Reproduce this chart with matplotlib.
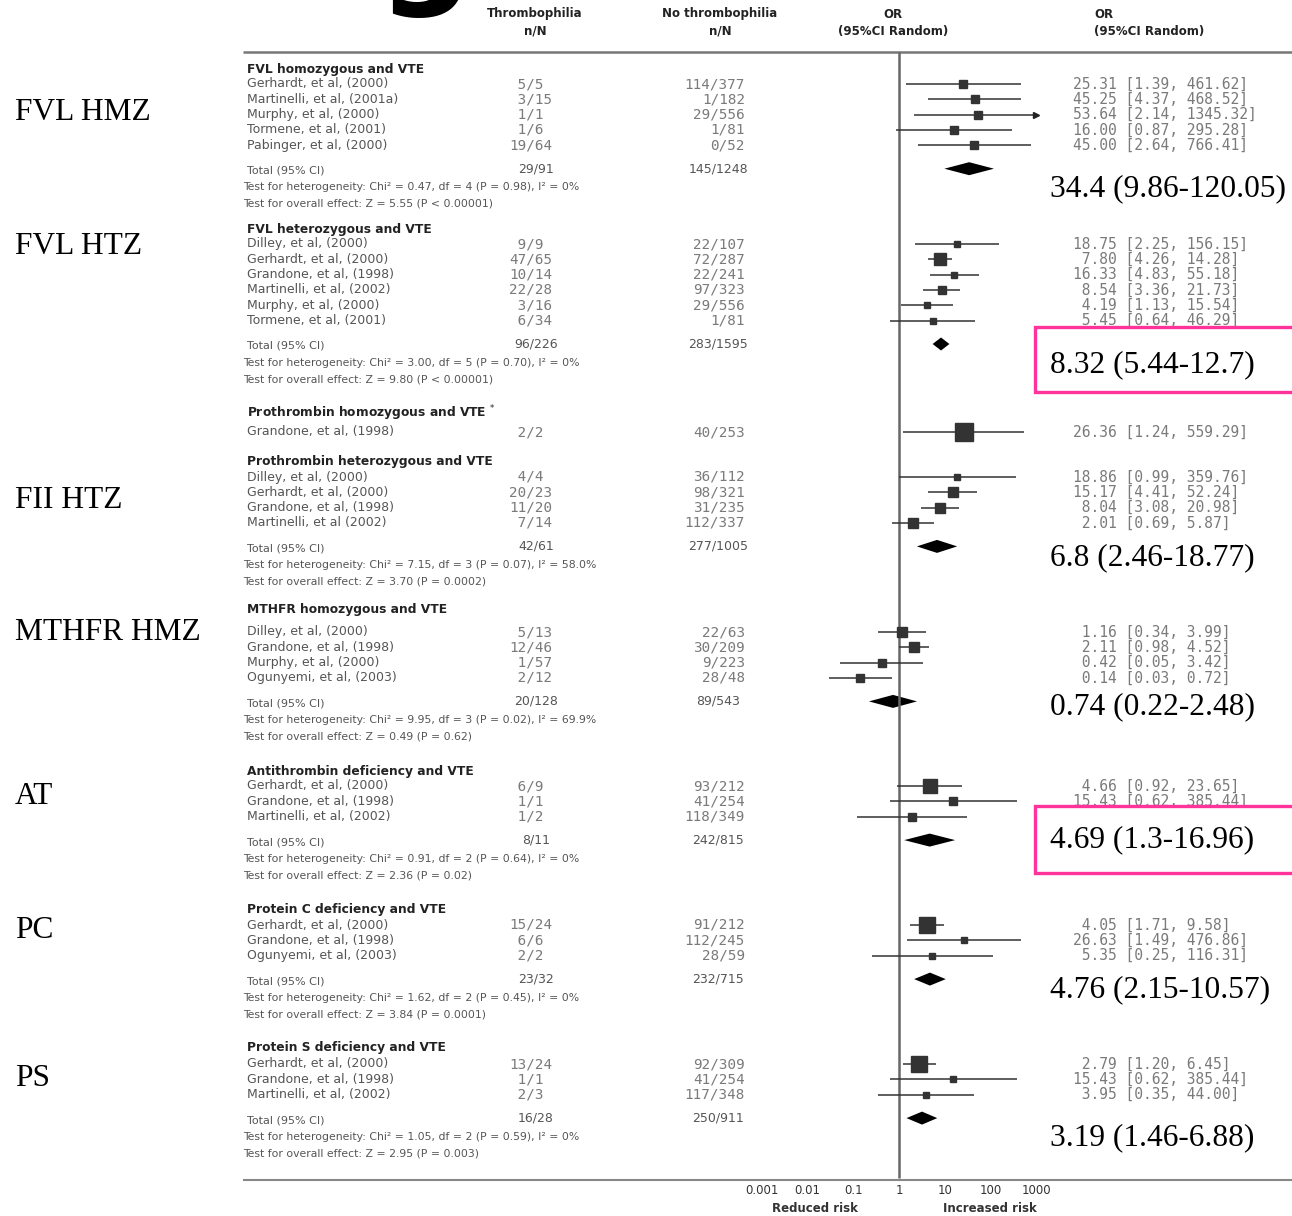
import numpy as np
import matplotlib
matplotlib.use("Agg")
from matplotlib import pyplot as plt
from matplotlib.patches import Rectangle

# ---- FVL homozygous ----
fvl_hmz_study = ["Gerhardt, et al, (2000)", "Martinelli, et al, (2001a)", "Murphy, et al, (2000)",
                 "Tormene, et al, (2001)", "Pabinger, et al, (2000)"]
fvl_hmz_thromb = ["5/5", "3/15", "1/1", "1/6", "19/64"]
fvl_hmz_control = ["114/377", "1/182", "29/556", "1/81", "0/52"]
fvl_hmz_or = [25.31, 45.25, 53.64, 16.00, 45.00]
fvl_hmz_lo = [1.39, 4.37, 2.14, 0.87, 2.64]
fvl_hmz_hi = [461.62, 468.52, 1345.32, 295.28, 766.41]
fvl_hmz_wt = [20, 22, 19, 19, 20]
fvl_hmz_total = ["29/91", "145/1248"]
fvl_hmz_het = "Chi² = 0.47, df = 4 (P = 0.98), I² = 0%"
fvl_hmz_z = "Z = 5.55 (P < 0.00001)"
fvl_hmz_pooled = [34.4, 9.86, 120.05]

# ---- FVL heterozygous ----
fvl_htz_study = ["Dilley, et al, (2000)", "Gerhardt, et al, (2000)", "Grandone, et al, (1998)",
                 "Martinelli, et al, (2002)", "Murphy, et al, (2000)", "Tormene, et al, (2001)"]
fvl_htz_thromb = ["9/9", "47/65", "10/14", "22/28", "3/16", "6/34"]
fvl_htz_control = ["22/107", "72/287", "22/241", "97/323", "29/556", "1/81"]
fvl_htz_or = [18.75, 7.80, 16.33, 8.54, 4.19, 5.45]
fvl_htz_lo = [2.25, 4.26, 4.83, 3.36, 1.13, 0.64]
fvl_htz_hi = [156.15, 14.28, 55.18, 21.73, 15.54, 46.29]
fvl_htz_wt = [7, 45, 12, 22, 9, 5]
fvl_htz_total = ["96/226", "283/1595"]
fvl_htz_het = "Chi² = 3.00, df = 5 (P = 0.70), I² = 0%"
fvl_htz_z = "Z = 9.80 (P < 0.00001)"
fvl_htz_pooled = [8.32, 5.44, 12.7]

# ---- Prothrombin homozygous ----
pt_hmz_study = ["Grandone, et al, (1998)"]
pt_hmz_thromb = ["2/2"]
pt_hmz_control = ["40/253"]
pt_hmz_or = [26.36]
pt_hmz_lo = [1.24]
pt_hmz_hi = [559.29]
pt_hmz_wt = [100]

# ---- Prothrombin heterozygous ----
pt_htz_study = ["Dilley, et al, (2000)", "Gerhardt, et al, (2000)", "Grandone, et al, (1998)",
                "Martinelli, et al (2002)"]
pt_htz_thromb = ["4/4", "20/23", "11/20", "7/14"]
pt_htz_control = ["36/112", "98/321", "31/235", "112/337"]
pt_htz_or = [18.86, 15.17, 8.04, 2.01]
pt_htz_lo = [0.99, 4.41, 3.08, 0.69]
pt_htz_hi = [359.76, 52.24, 20.98, 5.87]
pt_htz_wt = [12, 28, 31, 29]
pt_htz_total = ["42/61", "277/1005"]
pt_htz_het = "Chi² = 7.15, df = 3 (P = 0.07), I² = 58.0%"
pt_htz_z = "Z = 3.70 (P = 0.0002)"
pt_htz_pooled = [6.8, 2.46, 18.77]

# ---- MTHFR homozygous ----
mthfr_study = ["Dilley, et al, (2000)", "Grandone, et al, (1998)", "Murphy, et al, (2000)",
               "Ogunyemi, et al, (2003)"]
mthfr_thromb = ["5/13", "12/46", "1/57", "2/12"]
mthfr_control = ["22/63", "30/209", "9/223", "28/48"]
mthfr_or = [1.16, 2.11, 0.42, 0.14]
mthfr_lo = [0.34, 0.98, 0.05, 0.03]
mthfr_hi = [3.99, 4.52, 3.42, 0.72]
mthfr_wt = [26, 32, 18, 24]
mthfr_total = ["20/128", "89/543"]
mthfr_het = "Chi² = 9.95, df = 3 (P = 0.02), I² = 69.9%"
mthfr_z = "Z = 0.49 (P = 0.62)"
mthfr_pooled = [0.74, 0.22, 2.48]

# ---- Antithrombin ----
at_study = ["Gerhardt, et al, (2000)", "Grandone, et al, (1998)", "Martinelli, et al, (2002)"]
at_thromb = ["6/9", "1/1", "1/2"]
at_control = ["93/212", "41/254", "118/349"]
at_or = [4.66, 15.43, 1.96]
at_lo = [0.92, 0.62, 0.12]
at_hi = [23.65, 385.44, 31.45]
at_wt = [62, 18, 20]
at_total = ["8/11", "242/815"]
at_het = "Chi² = 0.91, df = 2 (P = 0.64), I² = 0%"
at_z = "Z = 2.36 (P = 0.02)"
at_pooled = [4.69, 1.3, 16.96]

# ---- Protein C ----
pc_study = ["Gerhardt, et al, (2000)", "Grandone, et al, (1998)", "Ogunyemi, et al, (2003)"]
pc_thromb = ["15/24", "6/6", "2/2"]
pc_control = ["91/212", "112/245", "28/59"]
pc_or = [4.05, 26.63, 5.35]
pc_lo = [1.71, 1.49, 0.25]
pc_hi = [9.58, 476.86, 116.31]
pc_wt = [70, 15, 15]
pc_total = ["23/32", "232/715"]
pc_het = "Chi² = 1.62, df = 2 (P = 0.45), I² = 0%"
pc_z = "Z = 3.84 (P = 0.0001)"
pc_pooled = [4.76, 2.15, 10.57]

# ---- Protein S ----
ps_study = ["Gerhardt, et al, (2000)", "Grandone, et al, (1998)", "Martinelli, et al, (2002)"]
ps_thromb = ["13/24", "1/1", "2/3"]
ps_control = ["92/309", "41/254", "117/348"]
ps_or = [2.79, 15.43, 3.95]
ps_lo = [1.20, 0.62, 0.35]
ps_hi = [6.45, 385.44, 44.00]
ps_wt = [72, 14, 14]
ps_total = ["16/28", "250/911"]
ps_het = "Chi² = 1.05, df = 2 (P = 0.59), I² = 0%"
ps_z = "Z = 2.95 (P = 0.003)"
ps_pooled = [3.19, 1.46, 6.88]

titles = ["FVL homozygous and VTE", "FVL heterozygous and VTE", "Prothrombin homozygous and VTE $^{*}$",
          "Prothrombin heterozygous and VTE", "MTHFR homozygous and VTE", "Antithrombin deficiency and VTE",
          "Protein C deficiency and VTE", "Protein S deficiency and VTE"]
short_names = ["FVL HMZ", "FVL HTZ", None, "FII HTZ", "MTHFR HMZ", "AT", "PC", "PS"]
tick_vals = [0.001, 0.01, 0.1, 1, 10, 100, 1000]
tick_labels = ["0.001", "0.01", "0.1", "1", "10", "100", "1000"]

groups = [
    dict(study=fvl_hmz_study, thromb=fvl_hmz_thromb, control=fvl_hmz_control, est=fvl_hmz_or,
         lo=fvl_hmz_lo, hi=fvl_hmz_hi, wt=fvl_hmz_wt, total=fvl_hmz_total, het=fvl_hmz_het,
         z=fvl_hmz_z, pooled=fvl_hmz_pooled),
    dict(study=fvl_htz_study, thromb=fvl_htz_thromb, control=fvl_htz_control, est=fvl_htz_or,
         lo=fvl_htz_lo, hi=fvl_htz_hi, wt=fvl_htz_wt, total=fvl_htz_total, het=fvl_htz_het,
         z=fvl_htz_z, pooled=fvl_htz_pooled),
    dict(study=pt_hmz_study, thromb=pt_hmz_thromb, control=pt_hmz_control, est=pt_hmz_or,
         lo=pt_hmz_lo, hi=pt_hmz_hi, wt=pt_hmz_wt, total=None),
    dict(study=pt_htz_study, thromb=pt_htz_thromb, control=pt_htz_control, est=pt_htz_or,
         lo=pt_htz_lo, hi=pt_htz_hi, wt=pt_htz_wt, total=pt_htz_total, het=pt_htz_het,
         z=pt_htz_z, pooled=pt_htz_pooled),
    dict(study=mthfr_study, thromb=mthfr_thromb, control=mthfr_control, est=mthfr_or,
         lo=mthfr_lo, hi=mthfr_hi, wt=mthfr_wt, total=mthfr_total, het=mthfr_het,
         z=mthfr_z, pooled=mthfr_pooled),
    dict(study=at_study, thromb=at_thromb, control=at_control, est=at_or,
         lo=at_lo, hi=at_hi, wt=at_wt, total=at_total, het=at_het, z=at_z, pooled=at_pooled),
    dict(study=pc_study, thromb=pc_thromb, control=pc_control, est=pc_or,
         lo=pc_lo, hi=pc_hi, wt=pc_wt, total=pc_total, het=pc_het, z=pc_z, pooled=pc_pooled),
    dict(study=ps_study, thromb=ps_thromb, control=ps_control, est=ps_or,
         lo=ps_lo, hi=ps_hi, wt=ps_wt, total=ps_total, het=ps_het, z=ps_z, pooled=ps_pooled),
]

# layout (pixels, y downwards)
header_y = [69, 229, 413, 462, 609, 771, 910, 1048]
first_gap = [15, 15, 19, 15, 23, 15, 15, 16]
row_step = 15.3
short_y = [113, 247, None, 500, 633, 797, 930, 1079]
pooled_y = [189, 365, None, 558, 707, 840, 990, 1138]
boxed = {1: (327, 392), 5: (806, 873)}

W, H = 1292, 1216
MONO = "DejaVu Sans Mono"
SERIF = "Liberation Serif"
PINK = "#ff3399"
GREY = "#555"
FAINT = "#7a7a7a"

fig = plt.figure(figsize=(W / 100, H / 100), dpi=100)
ax = fig.add_axes([0, 0, 1, 1])
ax.set_xlim(0, W)
ax.set_ylim(H, 0)
ax.axis("off")

# log axis for the odds ratios, 0.001 .. 1000
X0, X1 = 762, 1036
fx = fig.add_axes([X0 / W, 0, (X1 - X0) / W, 1])
fx.set_xscale("log")
fx.set_xlim(1e-3, 1e3)
fx.set_ylim(H, 0)
fx.axis("off")
fx.patch.set_visible(False)

# descender of the big title glyph above the table
ax.text(426, -11, "g", fontsize=96, fontweight="bold", ha="center", va="baseline", color="black")

# column headers
hdr = dict(fontsize=8.5, fontweight="bold", color="#222", va="center")
ax.text(535, 14, "Thrombophilia", ha="center", **hdr)
ax.text(535, 31, "n/N", ha="center", **hdr)
ax.text(720, 14, "No thrombophilia", ha="center", **hdr)
ax.text(720, 31, "n/N", ha="center", **hdr)
ax.text(893, 14, "OR", ha="center", **hdr)
ax.text(893, 31, "(95%CI Random)", ha="center", **hdr)
ax.text(1094, 14, "OR", ha="left", **hdr)
ax.text(1094, 31, "(95%CI Random)", ha="left", **hdr)

ax.hlines(52, 243, W, color="#777", lw=1.8)
ax.hlines(1180, 243, W, color="#888", lw=1.5)
fx.vlines(1, 52, 1178, color="#666", lw=1.8)

for i, g in enumerate(groups):
    y0 = header_y[i]
    ax.text(247, y0, titles[i], fontsize=8.8, fontweight="bold", color="#222", va="center")
    ys = y0 + first_gap[i] + row_step * np.arange(len(g["study"]))
    for j, y in enumerate(ys):
        est, lo, hi = g["est"][j], g["lo"][j], g["hi"][j]
        ax.text(247, y, g["study"][j], fontsize=9, color=GREY, va="center")
        num, den = g["thromb"][j].split("/")
        ax.text(509, y, f"{num:>2}/{den}", family=MONO, fontsize=10.3, color=FAINT, va="center")
        ax.text(745, y, g["control"][j], family=MONO, fontsize=10.3, color=FAINT,
                va="center", ha="right")
        ax.text(1073, y, f"{est:5.2f} [{lo:.2f}, {hi:.2f}]", family=MONO, fontsize=10.5,
                color=FAINT, va="center")
        fx.hlines(y, lo, min(hi, 1e3), color="#333", lw=1.1)
        if hi > 1e3:
            fx.plot(1e3, y, marker=">", ms=5, color="#222", clip_on=False)
        fx.plot(est, y, marker="s", ms=max(4.5, 13 * np.sqrt(g["wt"][j] / 100)),
                color="#333", mec="#333")

    if g["total"] is None:
        continue
    yt = ys[-1] + 25.5
    ax.text(247, yt, "Total (95% CI)", fontsize=8, color=GREY, va="center")
    ax.text(536, yt - 2, g["total"][0], fontsize=9, color=GREY, va="center", ha="center")
    ax.text(718, yt - 2, g["total"][1], fontsize=9, color=GREY, va="center", ha="center")
    ax.text(243, yt + 16.5, "Test for heterogeneity: " + g["het"], fontsize=7.8, color=GREY,
            va="center")
    ax.text(243, yt + 33, "Test for overall effect: " + g["z"], fontsize=7.8, color=GREY,
            va="center")
    pe, plo, phi = g["pooled"]
    yd = yt - 2
    fx.fill([plo, pe, phi, pe], [yd, yd - 6.5, yd, yd + 6.5], color="black", lw=0)

    ax.text(1050, pooled_y[i], f"{pe:g} ({plo:g}-{phi:g})", family=SERIF, fontsize=22.6,
            va="center", color="black", zorder=6)
    if i in boxed:
        top, bot = boxed[i]
        ax.add_patch(Rectangle((1035, top), 300, bot - top, facecolor="white",
                               edgecolor=PINK, lw=2.4, zorder=5))

for i, lab in enumerate(short_names):
    if lab:
        ax.text(15, short_y[i], lab, family=SERIF, fontsize=22.6, va="center", color="black")

for t, lab in zip(tick_vals, tick_labels):
    fx.text(t, 1190, lab, ha="center", va="center", fontsize=8.5, color="#333")
ax.text(815, 1209, "Reduced risk", ha="center", va="center", fontsize=8.5,
        fontweight="bold", color="#333")
ax.text(990, 1209, "Increased risk", ha="center", va="center", fontsize=8.5,
        fontweight="bold", color="#333")

fig.savefig("out.png", dpi=100)
